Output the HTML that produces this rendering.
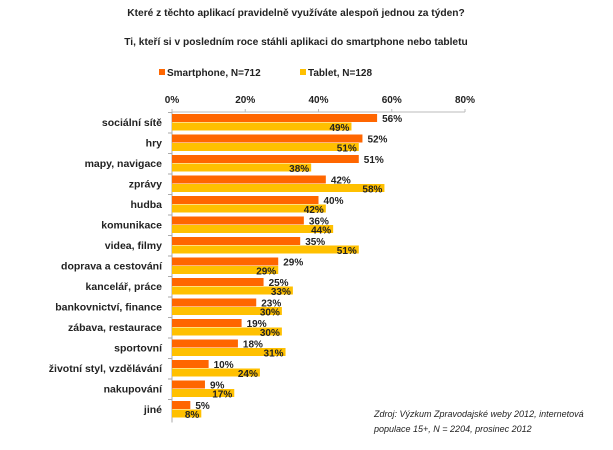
<!DOCTYPE html>
<html><head><meta charset="utf-8"><style>
body{margin:0;background:#fff;width:613px;height:445px;overflow:hidden;font-family:"Liberation Sans",sans-serif}
svg text{font-family:"Liberation Sans",sans-serif}
</style></head><body>
<svg id="c" width="613" height="445">
<text x="296" y="16" font-size="10.2" font-weight="bold" text-anchor="middle" fill="#222">Které z těchto aplikací pravidelně využíváte alespoň jednou za týden?</text>
<text x="296" y="45" font-size="10.2" font-weight="bold" text-anchor="middle" fill="#222">Ti, kteří si v posledním roce stáhli aplikaci do smartphone nebo tabletu</text>
<g>
<rect x="159" y="69" width="6" height="6" fill="#ff6600"/>
<text x="167" y="76" font-size="10" font-weight="bold" fill="#222">Smartphone, N=712</text>
<rect x="300" y="69" width="6" height="6" fill="#ffc000"/>
<text x="308" y="76" font-size="10" font-weight="bold" fill="#222">Tablet, N=128</text>
</g>
<text x="374" y="417" font-size="9" font-style="italic" fill="#222">Zdroj: Výzkum Zpravodajské weby 2012,  internetová</text>
<text x="374" y="432" font-size="9" font-style="italic" fill="#222">populace 15+, N = 2204, prosinec 2012</text>
</svg>
<script>
const categories=["sociální sítě","hry","mapy, navigace","zprávy","hudba","komunikace","videa, filmy","doprava a cestování","kancelář, práce","bankovnictví, finance","zábava, restaurace","sportovní","životní styl, vzdělávání","nakupování","jiné"];
const smartphone=[56,52,51,42,40,36,35,29,25,23,19,18,10,9,5];
const tablet=[49,51,38,58,42,44,51,29,33,30,30,31,24,17,8];
const ticks=[0,20,40,60,80];
const svg=document.getElementById('c');const NS='http://www.w3.org/2000/svg';
const x0=172,x1=465,y0=112,step=20.5;
const X=v=>x0+(x1-x0)*v/80;
function mk(t,a,txt){const e=document.createElementNS(NS,t);for(const k in a)e.setAttribute(k,a[k]);if(txt!=null)e.textContent=txt;svg.appendChild(e);return e;}
let e=mk('line',{x1:x0,x2:x1,y1:y0,y2:y0,stroke:'#bbb'});


ticks.forEach(t=>{
let l=mk('line',{x1:X(t),x2:X(t),y1:y0-3,y2:y0,stroke:'#bbb'});


let tx=mk('text',{x:X(t),y:y0-9,'font-size':10,'font-weight':'bold','text-anchor':'middle',fill:'#222'},t+'%');


});
const yEnd=y0+step*categories.length+3;
e=mk('line',{x1:x0,x2:x0,y1:y0,y2:yEnd,stroke:'#aaa'});


categories.forEach((c,i)=>{
const yt=y0+2+i*step;
let tk=mk('line',{x1:x0-4,x2:x0,y1:yt-1.5,y2:yt-1.5,stroke:'#aaa'});


let lb=mk('text',{x:x0-10,y:yt+12,'font-size':10.5,'font-weight':'bold','text-anchor':'end',fill:'#222'},c);


let b=mk('rect',{x:x0,y:yt,width:X(smartphone[i])-x0,height:8,fill:'#ff6600'});


let v=mk('text',{x:X(smartphone[i])+5,y:yt+8,'font-size':10,'font-weight':'bold',fill:'#222'},smartphone[i]+'%');


let b2=mk('rect',{x:x0,y:yt+8.5,width:X(tablet[i])-x0,height:8,fill:'#ffc000'});


let v2=mk('text',{x:X(tablet[i])-2,y:yt+17,'font-size':10,'font-weight':'bold','text-anchor':'end',fill:'#222'},tablet[i]+'%');


});
</script>
</body></html>
